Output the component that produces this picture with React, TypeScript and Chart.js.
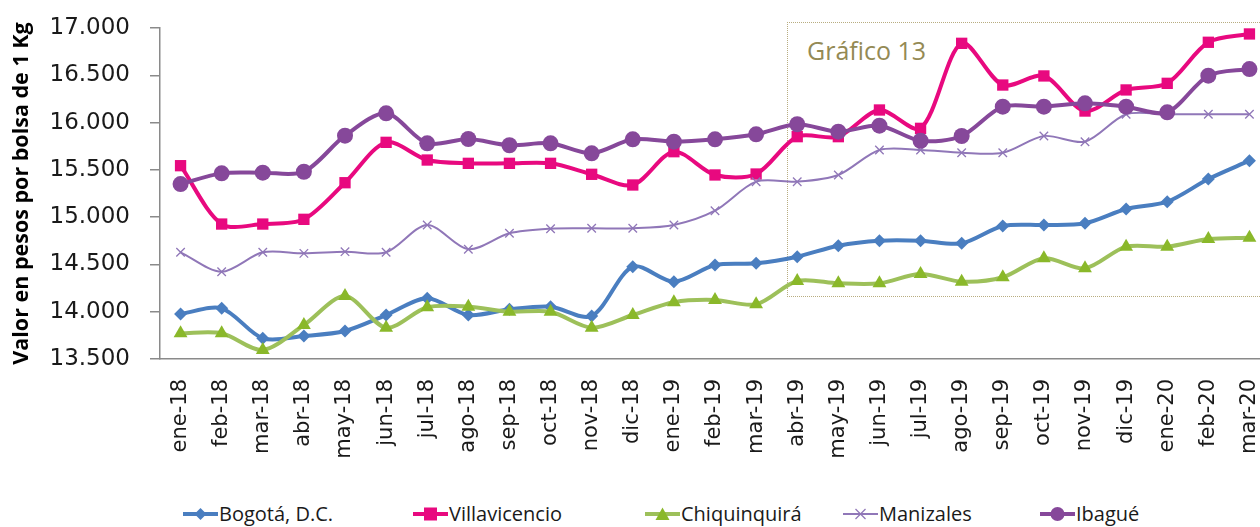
import React, { useEffect, useRef } from "react";
import { Chart, registerables } from "chart.js";

Chart.register(...registerables);

const categories = [
  "ene-18", "feb-18", "mar-18", "abr-18", "may-18", "jun-18", "jul-18", "ago-18", "sep-18",
  "oct-18", "nov-18", "dic-18", "ene-19", "feb-19", "mar-19", "abr-19", "may-19", "jun-19",
  "jul-19", "ago-19", "sep-19", "oct-19", "nov-19", "dic-19", "ene-20", "feb-20", "mar-20",
];

const bogota = [
  13976, 14036, 13719, 13743, 13796, 13965, 14142, 13965, 14025,
  14053, 13955, 14476, 14318, 14494, 14512, 14582, 14698, 14751,
  14751, 14723, 14906, 14917, 14935, 15086, 15163, 15403, 15597,
];
const villavicencio = [
  15544, 14927, 14927, 14977, 15364, 15791, 15604, 15569, 15569,
  15569, 15453, 15340, 15692, 15446, 15456, 15851, 15851, 16133,
  15939, 16838, 16397, 16493, 16122, 16345, 16415, 16849, 16937,
];
const chiquinquira = [
  13772, 13772, 13595, 13860, 14166, 13831, 14047, 14053, 14000,
  14000, 13831, 13965, 14100, 14124, 14078, 14325, 14300, 14300,
  14399, 14318, 14364, 14565, 14459, 14688, 14688, 14769, 14783,
];
const manizales = [
  14628, 14423, 14628, 14617, 14635, 14628, 14917, 14660, 14829,
  14878, 14882, 14882, 14917, 15068, 15375, 15375, 15446, 15710,
  15710, 15681, 15681, 15858, 15798, 16088, 16088, 16088, 16088,
];
const ibague = [
  15350, 15463, 15470, 15480, 15861, 16098, 15781, 15826, 15760,
  15781, 15675, 15823, 15798, 15823, 15876, 15982, 15904, 15967,
  15808, 15858, 16168, 16168, 16203, 16168, 16108, 16496, 16566,
];

const seriesNames = ["Bogotá, D.C.", "Villavicencio", "Chiquinquirá", "Manizales", "Ibagué"];
const seriesValues = [bogota, villavicencio, chiquinquira, manizales, ibague];
const seriesColors = ["#4A7EC0", "#E8097F", "#9DC05A", "#9077B8", "#86489A"];
const markerColors = ["#4A7EC0", "#E8097F", "#8AB82A", "#9077B8", "#86489A"];
const seriesMarkers = ["rectRot", "rect", "triangle", "crossRot", "circle"];
const markerRadius = [6.5, 8, 8, 6, 8];
const lineWidths = [4, 4, 4, 2, 4];
const drawOrder = [4, 3, 2, 1, 0];
const legendSlots = [230, 232, 198, 197, 0];

const yMin = 13500;
const yMax = 17000;
const yStep = 500;
const yTitle = "Valor en pesos por bolsa de 1 Kg";
const boxLabel = "Gráfico 13";

const fmt = (v: number) => Math.round(v).toString().replace(/\B(?=(\d{3})+(?!\d))/g, ".");

function LegendMarker({ idx }: { idx: number }) {
  const c = markerColors[idx];
  const lc = seriesColors[idx];
  const m = seriesMarkers[idx];
  let shape: any = null;
  if (m === "rectRot") shape = <polygon points="17.5,2 23.5,8 17.5,14 11.5,8" fill={c} />;
  else if (m === "rect") shape = <rect x={11} y={1.5} width={13} height={13} fill={c} />;
  else if (m === "triangle") shape = <polygon points="17.5,1.5 24.5,14 10.5,14" fill={c} />;
  else if (m === "crossRot")
    shape = (
      <g stroke={c} strokeWidth={1.3}>
        <line x1={12.5} y1={3} x2={22.5} y2={13} />
        <line x1={22.5} y1={3} x2={12.5} y2={13} />
      </g>
    );
  else shape = <circle cx={17.5} cy={8} r={7} fill={c} />;
  return (
    <svg width={35} height={16} style={{ display: "block", flex: "none" }}>
      <line x1={0} y1={8} x2={35} y2={8} stroke={lc} strokeWidth={lineWidths[idx]} />
      {shape}
    </svg>
  );
}

export default function App() {
  const canvasRef = useRef<HTMLCanvasElement | null>(null);

  useEffect(() => {
    if (!canvasRef.current) return;
    const datasets = seriesNames.map((name, i) => ({
      label: name,
      data: seriesValues[i],
      borderColor: seriesColors[i],
      backgroundColor: markerColors[i],
      borderWidth: lineWidths[i],
      pointStyle: seriesMarkers[i] as any,
      pointRadius: markerRadius[i],
      pointBorderColor: markerColors[i],
      pointBackgroundColor: markerColors[i],
      pointBorderWidth: seriesMarkers[i] === "crossRot" ? 1.3 : 0,
      tension: 0.3,
      order: drawOrder[i],
      fill: false,
    }));
    const chart = new Chart(canvasRef.current, {
      type: "line",
      data: { labels: categories, datasets },
      options: {
        animation: false,
        responsive: true,
        maintainAspectRatio: false,
        layout: { padding: { top: 28, left: 0, right: 0, bottom: 0 } },
        plugins: { legend: { display: false }, tooltip: { enabled: false } },
        scales: {
          x: {
            offset: true,
            ticks: {
              minRotation: 90,
              maxRotation: 90,
              autoSkip: false,
              padding: 20,
              color: "#1a1a1a",
              font: { family: "'DejaVu Sans'", size: 21 },
            },
            grid: { display: false, drawTicks: false },
            border: { display: true, color: "#8a8a8a", width: 1.5 },
            afterFit: (s: any) => {
              s.height = 111;
              s.paddingLeft = 0;
              s.paddingRight = 0;
            },
          },
          y: {
            min: yMin,
            max: yMax,
            ticks: {
              stepSize: yStep,
              padding: 20,
              color: "#1a1a1a",
              font: { family: "'DejaVu Sans'", size: 23 },
              callback: (v: any) => fmt(Number(v)),
            },
            grid: { drawOnChartArea: false, drawTicks: true, tickLength: 10, color: "#8a8a8a", lineWidth: 1.5 },
            border: { display: true, color: "#8a8a8a", width: 1.5 },
            title: {
              display: true,
              text: yTitle,
              color: "#000",
              font: { family: "'Open Sans'", size: 21.5, weight: "bold" },
              padding: { top: 9, bottom: 0 },
            },
            afterFit: (s: any) => {
              s.width = 160;
              s.paddingTop = 0;
              s.paddingBottom = 0;
            },
          },
        },
      },
    });
    return () => chart.destroy();
  }, []);

  return (
    <div
      style={{
        position: "fixed",
        left: 0,
        top: 0,
        width: 1260,
        height: 527,
        overflow: "hidden",
        background: "#fff",
        fontFamily: "'Open Sans', sans-serif",
      }}
    >
      <div
        style={{
          position: "absolute",
          left: 787,
          top: 22,
          width: 520,
          height: 273,
          borderTop: "1.5px dotted #B8AD80",
          borderLeft: "1.5px dotted #B8AD80",
          borderBottom: "1.5px dotted #B8AD80",
        }}
      >
        <div
          style={{
            position: "absolute",
            left: 19,
            top: 10,
            fontSize: 25,
            color: "#948A54",
            whiteSpace: "nowrap",
          }}
        >
          {boxLabel}
        </div>
      </div>
      <div style={{ position: "absolute", left: 0, top: 0, width: 1278, height: 470 }}>
        <canvas ref={canvasRef} />
      </div>
      <div
        style={{
          position: "absolute",
          left: 183,
          top: 500,
          display: "flex",
          alignItems: "center",
          fontSize: 20,
          color: "#1a1a1a",
          whiteSpace: "nowrap",
        }}
      >
        {seriesNames.map((n, i) => (
          <div
            key={n}
            style={{ display: "flex", alignItems: "center", width: legendSlots[i] || undefined }}
          >
            <LegendMarker idx={i} />
            <span style={{ marginLeft: 1 }}>{n}</span>
          </div>
        ))}
      </div>
    </div>
  );
}
